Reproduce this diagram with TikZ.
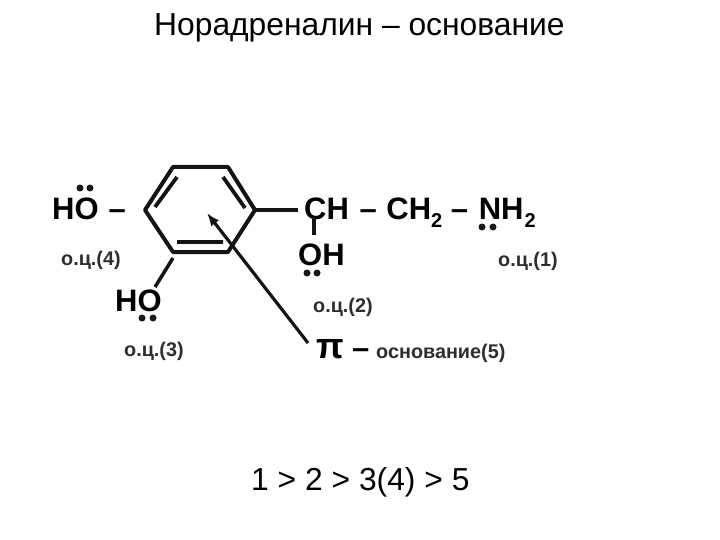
\documentclass[tikz,border=0pt]{standalone}
\usepackage{fontspec}
\usetikzlibrary{arrows.meta}
\setmainfont{Liberation Sans}
\newcommand{\subtwo}{\raisebox{-8pt}{\fontsize{20}{20}\selectfont 2}}
\tikzset{
  lbl/.style={inner sep=0pt,anchor=base west,font=\fontsize{31}{31}\selectfont\bfseries},
  small/.style={inner sep=0pt,anchor=base west,font=\fontsize{19.8}{20}\selectfont\bfseries,text=black!82},
  plain/.style={inner sep=0pt,anchor=base west,font=\fontsize{31.8}{32}\selectfont},
  bond/.style={line width=4pt,line cap=round,line join=round,black!92},
  thin bond/.style={line width=3.2pt,black!92},
  pair/.style={circle,fill=black!90,inner sep=0pt,minimum size=7pt},
}
\begin{document}
\begin{tikzpicture}[x=1pt,y=-1pt]
\useasboundingbox (0,0) rectangle (720,540);
\fill[white] (0,0) rectangle (720,540);
\node[plain] (title) at (154,36) {Норадреналин – основание};
\coordinate (a1) at (145,210);
\coordinate (a2) at (173,167);
\coordinate (a3) at (228,167);
\coordinate (a4) at (255,210);
\coordinate (a5) at (228,252);
\coordinate (a6) at (173,252);
\draw[bond] (a1)--(a2)--(a3)--(a4)--(a5)--(a6)--cycle;
\coordinate (b1) at (155,207); \coordinate (b2) at (177,177);
\coordinate (b3) at (223,177); \coordinate (b4) at (245,208);
\coordinate (b5) at (177,242); \coordinate (b6) at (223,242);
\draw[bond,line width=3.8pt,line cap=butt] (b1)--(b2) (b3)--(b4) (b5)--(b6);
\node[lbl] (ho1) at (52,219) {HO\kern 10pt –};
\node[pair] (p1a) at (80,188) {}; \node[pair] (p1b) at (90,188) {};
\node[small] (oc4) at (61,265) {о.ц.(4)};
\node[lbl] (ho2) at (115,311) {HO};
\node[pair] (p2a) at (142,318) {}; \node[pair] (p2b) at (153,318) {};
\node[small] (oc3) at (124,356) {о.ц.(3)};
\node[lbl] (ch) at (304,219) {CH\kern 2pt{} – \kern 1pt CH\subtwo{} – \kern 2pt NH\kern 1pt\subtwo};
\node[pair] (p3a) at (482,227) {}; \node[pair] (p3b) at (493,227) {};
\node[small] (oc1) at (498,266) {о.ц.(1)};
\node[lbl] (oh) at (298,265) {OH};
\node[pair] (p4a) at (307,273) {}; \node[pair] (p4b) at (317,273) {};
\node[small] (oc2) at (313,312) {о.ц.(2)};
\node[lbl,font=\fontsize{36}{36}\selectfont\bfseries] (pi) at (316,358) {π};
\node[lbl] (dash) at (352,358) {–};
\node[small] (base) at (376,358) {основание(5)};
\node[plain] (order) at (251,490) {1 > 2 > 3(4) > 5};
\coordinate (r) at (298,210);
\draw[thin bond,line width=3.5pt] (a4)--(r);
\coordinate (h1) at (173,258); \coordinate (h2) at (155,287);
\draw[thin bond,line width=3.5pt] (h1)--(h2);
\coordinate (c1) at (314,217); \coordinate (c2) at (314,235);
\draw[thin bond] (c1)--(c2);
\coordinate (t) at (308,343); \coordinate (u) at (207,213);
\draw[-{Latex[length=13pt,width=10pt]},thin bond] (t)--(u);
\end{tikzpicture}
\end{document}
